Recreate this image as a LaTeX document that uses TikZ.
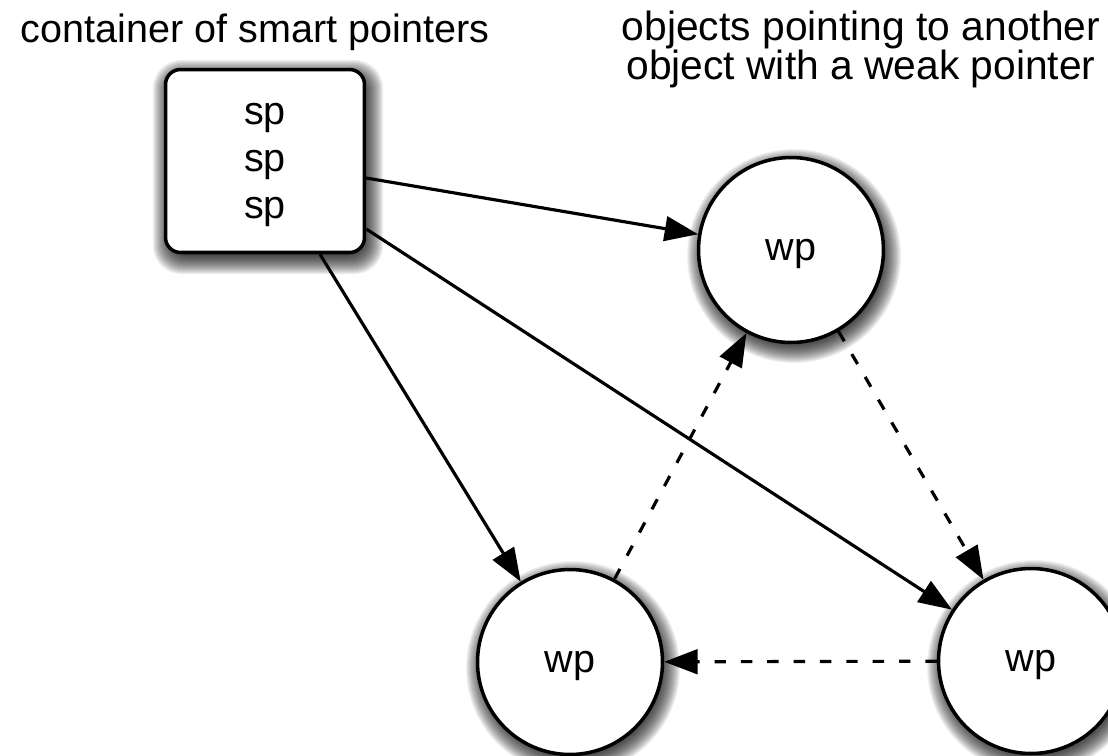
\documentclass[tikz,border=0pt]{standalone}
\usepackage{fontspec}
\setmainfont{Liberation Sans}
\usetikzlibrary{arrows.meta,calc,backgrounds}
\begin{document}
\begin{tikzpicture}[x=0.02cm,y=-0.02cm,
  txt/.style={font=\fontsize{22.5}{26.7}\selectfont},
  obj/.style={circle,draw,line width=2pt,fill=white,minimum size=3.7cm,inner sep=0pt,txt,text depth=0pt},
  cont/.style={rectangle,rounded corners=8.5pt,draw,line width=2pt,fill=white,minimum width=3.98cm,minimum height=3.66cm,inner sep=0pt,align=center,txt,text depth=-5pt},
  ptr/.style={line width=1.8pt,-{Triangle[length=19pt,width=14pt]}},
  weak/.style={ptr,dash pattern=on 6.5pt off 8.5pt},
  shadowlayer/.style={fill=black,opacity=0.06}]
\useasboundingbox (0,0) rectangle (1108,755);
\node[cont] (box) at (265,161) {sp\\sp\\sp};
\node[obj] (top) at (791,250) {wp};
\node[obj] (bl) at (570,662) {wp};
\node[obj] (br) at (1031,661) {wp};
\begin{scope}[on background layer]
  \foreach \k in {0,...,20}{
    \fill[shadowlayer] ($(top.center)+(3,6)$) circle[radius={93+\k-6}];
    \fill[shadowlayer] ($(bl.center)+(3,6)$) circle[radius={93+\k-6}];
    \fill[shadowlayer] ($(br.center)+(3,6)$) circle[radius={93+\k-6}];
    \fill[shadowlayer,rounded corners={(8.5+0.4*\k)*1pt}] ($(box.north west)+(9-\k,12-\k)$) rectangle ($(box.south east)+(\k-3,\k)$);
  }
\end{scope}
\node[txt,anchor=base] (t1) at (255,42) {container of smart pointers};
\node[font=\fontsize{23.2}{22.2}\selectfont,align=center] (t2) at (861,49) {objects pointing to another\\object with a weak pointer};
\draw[ptr] ($(box.east)+(0,17)$) -- (top);
\draw[ptr] ($(box.south)+(55,0)$) -- (bl);
\draw[ptr] ($(box.east)+(0,68)$) -- (br);
\draw[weak] (bl) -- (top);
\draw[weak] (top) -- (br);
\draw[weak] (br) -- (bl);
\end{tikzpicture}
\end{document}
